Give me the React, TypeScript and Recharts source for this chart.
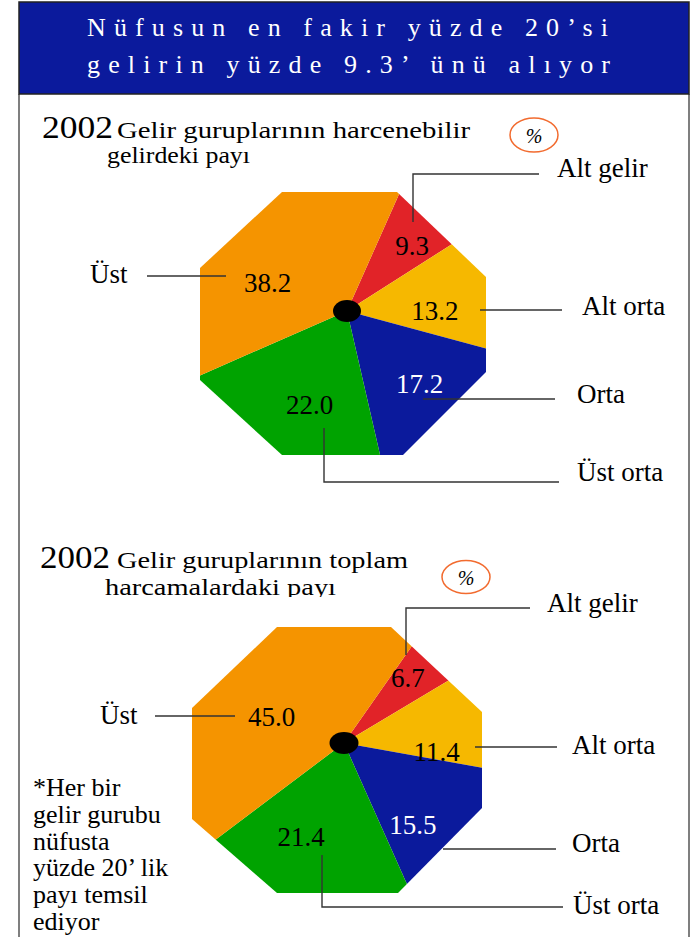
import React from 'react';
import { PieChart, Pie, Cell } from 'recharts';

// ---------- data ----------
const GROUPS = ['Alt gelir', 'Alt orta', 'Orta', 'Üst orta', 'Üst'];
const INCOME_SHARE = [9.3, 13.2, 17.2, 22.0, 38.2];
const SPENDING_SHARE = [6.7, 11.4, 15.5, 21.4, 45.0];
const HEADER_LINES = ['Nüfusun en fakir yüzde 20’si', 'gelirin yüzde 9.3’ ünü alıyor'];
const YEAR = '2002';
const INCOME_TITLE = ['Gelir guruplarının harcenebilir', 'gelirdeki payı'];
const SPENDING_TITLE = ['Gelir guruplarının toplam', 'harcamalardaki payı'];
const FOOTNOTE = ['*Her bir', 'gelir gurubu', 'nüfusta', 'yüzde 20’ lik', 'payı temsil', 'ediyor'];
const UNIT = '%';

// ---------- styles ----------
const W = 698;
const H = 937;
const SERIF = '"Liberation Serif", "Times New Roman", serif';
const COLORS = ['#E12328', '#F6B800', '#0B1A9C', '#00A300', '#F59400'];
const LABEL_COLORS = ['#000', '#000', '#fff', '#000', '#000'];
const HEADER_BLUE = '#0B1A9C';

const incomeData = GROUPS.map((name, i) => ({ name, value: INCOME_SHARE[i] }));
const spendingData = GROUPS.map((name, i) => ({ name, value: SPENDING_SHARE[i] }));

// pie layout (center, start angle, octagonal outline relative to center, label nudges [deg, radius])
const PIE_INCOME = {
  cx: 347,
  cy: 311,
  start: 66,
  clipId: 'oct-income',
  oct: [[-65, -119], [50, -119], [139, -34], [139, 61], [56, 144], [-65, 144], [-147, 69], [-147, -43]],
  nudge: [[-4.3, 92], [-8.8, 88], [1, 103], [5, 101], [25.9, 84]],
};
const PIE_SPENDING = {
  cx: 344,
  cy: 743,
  start: 55,
  clipId: 'oct-spending',
  oct: [[-67, -116], [47, -116], [138, -31], [138, 65], [54, 150], [-67, 150], [-152, 76], [-152, -35]],
  nudge: [[2.4, 91], [-15.9, 93], [-11.9, 107], [-10.1, 103], [24, 77]],
};

const octPoints = (p: typeof PIE_INCOME) =>
  p.oct.map(([dx, dy]) => `${p.cx + dx},${p.cy + dy}`).join(' ');

const makeLabel = (p: typeof PIE_INCOME) => (props: any) => {
  const { midAngle, index, value } = props;
  const [dA, r] = p.nudge[index];
  const a = ((midAngle + dA) * Math.PI) / 180;
  const x = props.cx + r * Math.cos(a);
  const y = props.cy - r * Math.sin(a);
  return (
    <text
      x={x}
      y={y}
      textAnchor="middle"
      dominantBaseline="central"
      fill={LABEL_COLORS[index]}
      fontSize={27}
      fontFamily={SERIF}
    >
      {Number(value).toFixed(1)}
    </text>
  );
};

type Callout = { idx: number; pts: string; tx: number; ty: number };
const INCOME_CALLOUTS: Callout[] = [
  { idx: 0, pts: '413,222 413,174 539,174', tx: 557, ty: 177 },
  { idx: 1, pts: '480,310 562,310', tx: 582, ty: 315 },
  { idx: 2, pts: '423,399 555,399', tx: 577, ty: 403 },
  { idx: 3, pts: '324,428 324,482 559,482', tx: 577, ty: 481 },
  { idx: 4, pts: '147,276 226,276', tx: 90, ty: 283 },
];
const SPENDING_CALLOUTS: Callout[] = [
  { idx: 0, pts: '406,655 406,608 530,608', tx: 547, ty: 612 },
  { idx: 1, pts: '475,747 557,747', tx: 572, ty: 754 },
  { idx: 2, pts: '443,849 556,849', tx: 572, ty: 852 },
  { idx: 3, pts: '322,855 322,907 563,907', tx: 573, ty: 914 },
  { idx: 4, pts: '155,716 235,716', tx: 100, ty: 724 },
];

const renderCallouts = (list: Callout[]) =>
  list.map((c) => (
    <g key={c.idx}>
      <polyline points={c.pts} fill="none" stroke="#333" strokeWidth={1.4} />
      <text x={c.tx} y={c.ty} fontSize={27} fontFamily={SERIF} fill="#000">
        {GROUPS[c.idx]}
      </text>
    </g>
  ));

export default function App() {
  return (
    <div style={{ position: 'absolute', left: 0, top: 0, width: W, height: H, background: '#fff', overflow: 'hidden' }}>
      <style>{`
        .pie-income .recharts-sector { clip-path: url(#oct-income); }
        .pie-spending .recharts-sector { clip-path: url(#oct-spending); }
      `}</style>
      <PieChart width={W} height={H} margin={{ top: 0, right: 0, bottom: 0, left: 0 }}>
        <Pie
          className="pie-income"
          data={incomeData}
          dataKey="value"
          nameKey="name"
          cx={PIE_INCOME.cx}
          cy={PIE_INCOME.cy}
          startAngle={PIE_INCOME.start}
          endAngle={PIE_INCOME.start - 360}
          innerRadius={0}
          outerRadius={185}
          stroke="none"
          label={makeLabel(PIE_INCOME)}
          labelLine={false}
          isAnimationActive={false}
        >
          {incomeData.map((d, i) => (
            <Cell key={d.name} fill={COLORS[i]} clipPath={`url(#${PIE_INCOME.clipId})`} />
          ))}
        </Pie>
        <Pie
          className="pie-spending"
          data={spendingData}
          dataKey="value"
          nameKey="name"
          cx={PIE_SPENDING.cx}
          cy={PIE_SPENDING.cy}
          startAngle={PIE_SPENDING.start}
          endAngle={PIE_SPENDING.start - 360}
          innerRadius={0}
          outerRadius={185}
          stroke="none"
          label={makeLabel(PIE_SPENDING)}
          labelLine={false}
          isAnimationActive={false}
        >
          {spendingData.map((d, i) => (
            <Cell key={d.name} fill={COLORS[i]} clipPath={`url(#${PIE_SPENDING.clipId})`} />
          ))}
        </Pie>
      </PieChart>

      <svg
        width={W}
        height={H}
        style={{ position: 'absolute', left: 0, top: 0, pointerEvents: 'none' }}
      >
        <defs>
          <clipPath id={PIE_INCOME.clipId} clipPathUnits="userSpaceOnUse">
            <polygon points={octPoints(PIE_INCOME)} />
          </clipPath>
          <clipPath id={PIE_SPENDING.clipId} clipPathUnits="userSpaceOnUse">
            <polygon points={octPoints(PIE_SPENDING)} />
          </clipPath>
        </defs>

        {/* frame */}
        <line x1={19} y1={94} x2={19} y2={H} stroke="#555" strokeWidth={1.5} />
        <line x1={689} y1={94} x2={689} y2={H} stroke="#555" strokeWidth={1.5} />

        {/* header */}
        <rect x={19} y={2} width={670} height={92} fill={HEADER_BLUE} stroke="#222" strokeWidth={1.5} />
        <text x={87} y={36} fill="#fff" fontSize={26} fontFamily={SERIF} textLength={521} lengthAdjust="spacing">
          {HEADER_LINES[0]}
        </text>
        <text x={87} y={73} fill="#fff" fontSize={26} fontFamily={SERIF} textLength={523} lengthAdjust="spacing">
          {HEADER_LINES[1]}
        </text>

        {/* chart 1 title */}
        <text x={42} y={138} fontSize={31} fontFamily={SERIF} textLength={71} lengthAdjust="spacingAndGlyphs">{YEAR}</text>
        <text x={117} y={138} fontSize={24} fontFamily={SERIF} textLength={353} lengthAdjust="spacingAndGlyphs">{INCOME_TITLE[0]}</text>
        <text x={107} y={163} fontSize={24} fontFamily={SERIF} textLength={143} lengthAdjust="spacingAndGlyphs">{INCOME_TITLE[1]}</text>
        <ellipse cx={534} cy={135} rx={24} ry={17} fill="none" stroke="#F26B2F" strokeWidth={1.5} />
        <text x={534} y={136} fontSize={20} fontStyle="italic" fontFamily={SERIF} textAnchor="middle" dominantBaseline="central">{UNIT}</text>

        {/* chart 2 title */}
        <text x={40} y={568} fontSize={31} fontFamily={SERIF} textLength={70} lengthAdjust="spacingAndGlyphs">{YEAR}</text>
        <text x={117} y={568} fontSize={24} fontFamily={SERIF} textLength={291} lengthAdjust="spacingAndGlyphs">{SPENDING_TITLE[0]}</text>
        <text x={105} y={595} fontSize={24} fontFamily={SERIF} textLength={231} lengthAdjust="spacingAndGlyphs">{SPENDING_TITLE[1]}</text>
        <rect x={100} y={597} width={245} height={10} fill="#fff" />
        <ellipse cx={466} cy={577} rx={24} ry={16.5} fill="none" stroke="#F26B2F" strokeWidth={1.5} />
        <text x={466} y={578} fontSize={20} fontStyle="italic" fontFamily={SERIF} textAnchor="middle" dominantBaseline="central">{UNIT}</text>

        {/* callouts */}
        {renderCallouts(INCOME_CALLOUTS)}
        {renderCallouts(SPENDING_CALLOUTS)}

        {/* hubs */}
        <ellipse cx={PIE_INCOME.cx} cy={PIE_INCOME.cy} rx={14} ry={11} fill="#000" />
        <ellipse cx={PIE_SPENDING.cx} cy={PIE_SPENDING.cy} rx={14.5} ry={11} fill="#000" />

        {/* footnote */}
        {FOOTNOTE.map((line, i) => (
          <text key={i} x={33} y={796 + i * 26.8} fontSize={26} fontFamily={SERIF} fill="#000">
            {line}
          </text>
        ))}
      </svg>
    </div>
  );
}
